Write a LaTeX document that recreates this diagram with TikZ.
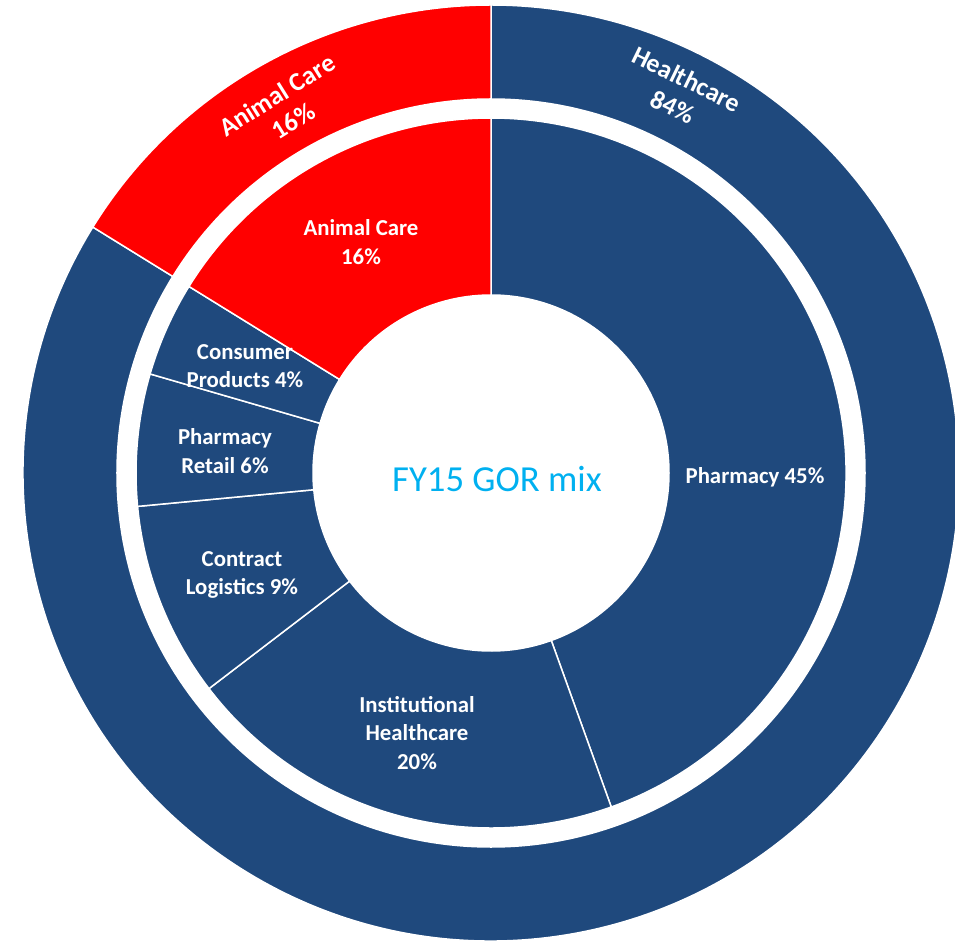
\documentclass[tikz,border=0pt]{standalone}
\usepackage{fontspec}
\setmainfont{Carlito}
\definecolor{navy}{HTML}{1F497D}
\definecolor{skyblue}{HTML}{00B0F0}
\definecolor{brightred}{HTML}{FF0000}

\newcommand{\ringslice}[5]{%
  \filldraw[#5, slice] (#1:#3) arc[start angle=#1, end angle=#2, radius=#3]
    -- (#2:#4) arc[start angle=#2, end angle=#1, radius=#4] -- cycle;}

\tikzset{
  slice/.style={draw=white, line width=1.5pt},
  segtext/.style={text=white, align=center, font=\bfseries\fontsize{22.8}{28.5}\selectfont},
  ringtext/.style={text=white, align=center, font=\bfseries\fontsize{26}{31}\selectfont},
}

\begin{document}
\begin{tikzpicture}[x=1pt,y=1pt]
    \useasboundingbox (-491,-469) rectangle (464,473);
    \clip (-491,-469) rectangle (464,473);

    % Draw outer ring
    \ringslice{90}{-211.7}{374}{468}{fill=navy}
    \ringslice{148.3}{90}{374}{468}{fill=brightred}

    % Draw inner ring
    \foreach \a/\b/\c in {90/-70.2/navy, -70.2/-142.6/navy, -142.6/-174.6/navy,
                          -174.6/-196.2/navy, -196.2/-211.7/navy, -211.7/-270/brightred}
        \ringslice{\a}{\b}{178}{355}{fill=\c};

    % Ring labels
    \node[ringtext, rotate=-26] (healthcare) at (189,380) {Healthcare\\84\%};
    \node[ringtext, rotate=32] (animalring) at (-206,365) {Animal Care\\16\%};

    % Segment labels
    \node[segtext] (pharmacy) at (264,-4) {Pharmacy 45\%};
    \node[segtext] (institutional) at (-74,-260) {Institutional\\Healthcare\\20\%};
    \node[segtext] (contract) at (-249,-102) {Contract\\Logistics 9\%};
    \node[segtext] (retail) at (-266,22) {Pharmacy\\Retail 6\%};
    \node[segtext] (consumer) at (-246,107) {Consumer\\Products 4\%};
    \node[segtext] (animal) at (-130,231) {Animal Care\\16\%};

    % Centre title
    \node[text=skyblue, font=\fontsize{36.7}{40}\selectfont] (title) at (6,-6) {FY15 GOR mix};
\end{tikzpicture}
\end{document}
